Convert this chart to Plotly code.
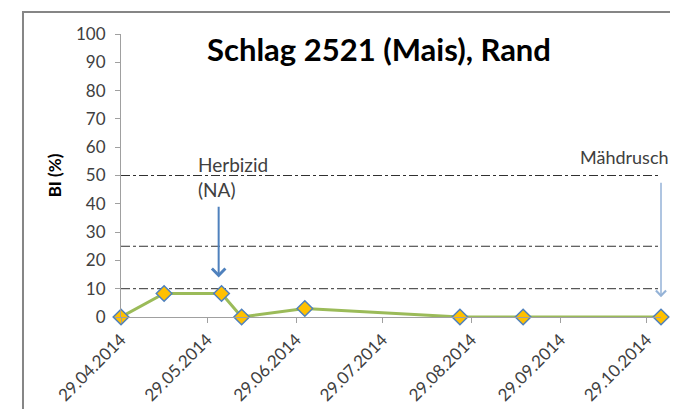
import plotly.graph_objects as go

# ---- data ----
dates = ["2014-04-29", "2014-05-14", "2014-06-03", "2014-06-10",
         "2014-07-02", "2014-08-25", "2014-09-16", "2014-11-03"]
bi_values = [0, 8.3, 8.3, 0, 3.0, 0, 0, 0]

tick_dates = ["2014-04-29", "2014-05-29", "2014-06-29", "2014-07-29",
              "2014-08-29", "2014-09-29", "2014-10-29"]
tick_labels = ["29.04.2014", "29.05.2014", "29.06.2014", "29.07.2014",
               "29.08.2014", "29.09.2014", "29.10.2014"]
y_ticks = [0, 10, 20, 30, 40, 50, 60, 70, 80, 90, 100]
threshold_levels = [50, 25, 10]

herbizid_date = "2014-06-02"
maehdrusch_date = "2014-11-03"

FONT = "Lato"
TXT = "#404040"

# page body has an 8px default margin -> figure sized to fill the rest
W, H = 670, 401

fig = go.Figure()
fig.add_trace(go.Scatter(
    x=dates, y=bi_values, mode="lines+markers",
    line=dict(color="#9BBB59", width=3),
    marker=dict(symbol="diamond", size=12, color="#FFC000",
                line=dict(color="#4F81BD", width=1.5)),
    cliponaxis=False, showlegend=False,
))

for lvl in threshold_levels:
    fig.add_shape(type="line", xref="paper", x0=0, x1=1, yref="y", y0=lvl, y1=lvl,
                  line=dict(color="#303030", width=1, dash="dashdot"), layer="below")

# outer frame
fig.add_shape(type="rect", xref="paper", yref="paper",
              x0=-0.1815, x1=1.2, y0=-0.6, y1=1.078,
              line=dict(color="#868686", width=2), fillcolor="rgba(0,0,0,0)")

# arrows
fig.add_annotation(x=herbizid_date, y=14, ax=herbizid_date, ay=39.5,
                   xref="x", yref="y", axref="x", ayref="y",
                   showarrow=True, arrowhead=4, arrowsize=1.3, arrowwidth=2,
                   arrowcolor="#4F81BD", text="")
fig.add_annotation(x=maehdrusch_date, y=7, ax=maehdrusch_date, ay=48,
                   xref="x", yref="y", axref="x", ayref="y",
                   showarrow=True, arrowhead=4, arrowsize=1.3, arrowwidth=1.5,
                   arrowcolor="#95B3D7", text="")
fig.add_annotation(x="2014-05-25", y=49.5, xref="x", yref="y", showarrow=False,
                   text="Herbizid<br>(NA)", align="left", xanchor="left",
                   font=dict(family=FONT, size=19, color=TXT))
fig.add_annotation(x="2014-10-05", y=56.5, xref="x", yref="y", showarrow=False,
                   text="Mähdrusch", align="left", xanchor="left",
                   font=dict(family=FONT, size=18, color=TXT))

fig.update_layout(
    width=W, height=H,
    margin=dict(l=113, r=17, t=26, b=92, autoexpand=False),
    paper_bgcolor="white", plot_bgcolor="white",
    font=dict(family=FONT, color=TXT),
    title=dict(text="<b>Schlag 2521 (Mais), Rand</b>", x=371 / W, xanchor="center",
               y=1 - 42 / H, yanchor="middle", xref="container", yref="container",
               font=dict(family=FONT, size=31, color="black")),
    xaxis=dict(type="date", range=["2014-04-29", "2014-11-03"], automargin=False,
               tickvals=tick_dates, ticktext=tick_labels, tickangle=-45,
               showgrid=False, zeroline=False, showline=True, linecolor="#A0A0A0",
               linewidth=1, ticks="outside", ticklen=5, tickcolor="#A0A0A0",
               tickfont=dict(family=FONT, size=17, color=TXT)),
    yaxis=dict(range=[0, 100], tickvals=y_ticks, showgrid=False, zeroline=False,
               automargin=False,
               showline=True, linecolor="#A0A0A0", linewidth=1, ticks="outside",
               ticklen=5, tickcolor="#A0A0A0", ticklabelstandoff=6,
               tickfont=dict(family=FONT, size=17, color=TXT),
               title=dict(text="<b>BI (%)</b>", standoff=10,
                          font=dict(family=FONT, size=17, color="black"))),
)

fig.write_html("out.html")
